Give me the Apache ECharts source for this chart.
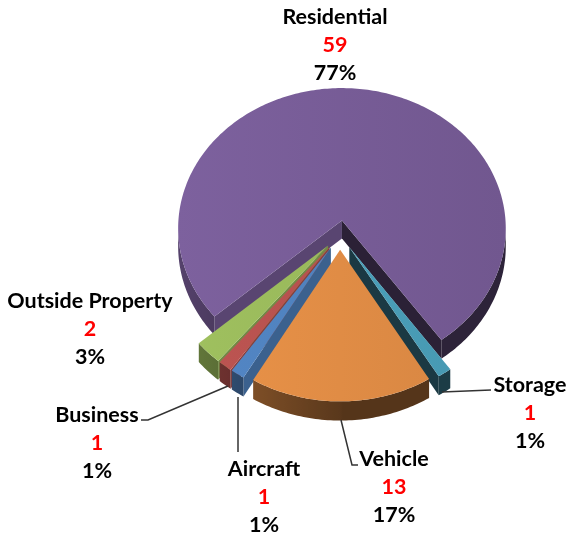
<!DOCTYPE html>
<html>
<head>
<meta charset="utf-8">
<style>
  html, body { margin: 0; padding: 0; background: #fff; }
  #chart { width: 569px; height: 535px; }
</style>
<script src="https://cdn.jsdelivr.net/npm/echarts@6/dist/echarts.min.js"></script>
</head>
<body>
<div id="chart"></div>
<script>
// data, in the order the slices run clockwise
const categories = ['Aircraft', 'Business', 'Outside Property', 'Residential', 'Storage', 'Vehicle'];
const seriesValues = [1, 1, 2, 59, 1, 13];
const percentLabels = ['1%', '1%', '3%', '77%', '1%', '17%'];
const sliceColors = ['#4f81bd', '#b5514e', '#98b85a', '#775c96', '#4a9fb9', '#e08c45'];
const drawOrder = [3, 2, 1, 0, 4, 5]; // back to front

// label centre x, first line y, leader line
const labelX = [264, 97, 90, 335, 530, 394];
const labelY = [469, 415, 301, 17, 385, 459];
const leaders = [
    [[238, 397], [238, 452]],
    [[228, 386], [148, 420], [141, 420]],
    null,
    null,
    [[442, 392], [491, 390]],
    [[341, 420], [352, 465], [358, 465]]
];

// pie geometry
const firstAngle = 210;
const cx = 340, cy = 235, R = 164.5;
const tilt = 0.86, persp = 0.056, depth = 18, explode = 17;
const lineGap = 28;

const total = seriesValues.reduce((a, b) => a + b, 0);

function project(X, Y, Z) {
    const k = 1 / (1 - persp * Y / R);
    return [cx + X * k, cy + Y * tilt * k + Z * k];
}
function shade(hex, f) {
    const n = parseInt(hex.slice(1), 16);
    const c = [n >> 16, (n >> 8) & 255, n & 255].map(v => Math.min(255, Math.round(v * f)));
    return 'rgb(' + c.join(',') + ')';
}
function startAngleOf(idx) {
    let sum = 0;
    for (let i = 0; i < idx; i++) sum += seriesValues[i];
    return firstAngle + sum / total * 360;
}
// darker towards the right, lighter where the rim turns to the left
function rimFactor(nx) {
    return nx < 0 ? 0.4 - 0.32 * nx : 0.38;
}

function renderSlice(params, api) {
    const idx = api.value(0);
    const value = api.value(1);
    const color = sliceColors[idx];
    const a0 = startAngleOf(idx);
    const a1 = a0 + value / total * 360;
    const mid = (a0 + a1) / 2 * Math.PI / 180;
    const ox = Math.sin(mid) * explode, oy = -Math.cos(mid) * explode;

    // outline: apex, then arc clockwise
    const world = [[ox, oy, 0]];
    const steps = Math.max(2, Math.ceil(a1 - a0));
    for (let i = 0; i <= steps; i++) {
        const a = (a0 + (a1 - a0) * i / steps) * Math.PI / 180;
        world.push([ox + Math.sin(a) * R, oy - Math.cos(a) * R, Math.sin(a)]);
    }
    const top = world.map(p => project(p[0], p[1], 0));
    const bottom = world.map(p => project(p[0], p[1], depth));
    const n = top.length;

    const children = [];
    const flat = (i, j, f) => ({
        type: 'polygon',
        shape: { points: [top[i], top[j], bottom[j], bottom[i]] },
        style: { fill: shade(color, f) }
    });

    // radial walls facing the viewer
    if (top[1][0] < top[0][0]) children.push(flat(0, 1, 0.75));
    if (top[0][0] < top[n - 1][0]) children.push(flat(n - 1, 0, 0.36));

    // rim, one polygon for each run of viewer facing segments
    let i = 1;
    while (i < n - 1) {
        if (top[i + 1][0] >= top[i][0]) { i++; continue; }
        let j = i;
        while (j < n - 1 && top[j + 1][0] < top[j][0]) j++;
        const upper = top.slice(i, j + 1);
        const lower = bottom.slice(i, j + 1).reverse();
        const xR = top[i][0], xL = top[j][0];
        const stops = [];
        for (let s = j; s >= i; s--) {
            stops.push({
                offset: (top[s][0] - xL) / (xR - xL),
                color: shade(color, rimFactor(world[s][2]))
            });
        }
        children.push({
            type: 'polygon',
            shape: { points: upper.concat(lower) },
            style: { fill: new echarts.graphic.LinearGradient(xL, 0, xR, 0, stops, true) }
        });
        i = j;
    }

    children.push({
        type: 'polygon',
        shape: { points: top },
        style: {
            fill: new echarts.graphic.LinearGradient(cx - R, 0, cx + R, 0, [
                { offset: 0, color: shade(color, 1.05) },
                { offset: 1, color: shade(color, 0.95) }
            ], true)
        }
    });

    if (leaders[idx]) {
        children.push({
            type: 'polyline',
            shape: { points: leaders[idx] },
            style: { stroke: '#333', lineWidth: 1.5, fill: null }
        });
    }
    const lines = [categories[idx], String(value), percentLabels[idx]];
    lines.forEach((t, l) => {
        children.push({
            type: 'text',
            style: {
                text: t,
                x: labelX[idx],
                y: labelY[idx] + l * lineGap,
                align: 'center',
                verticalAlign: 'middle',
                fill: l === 1 ? '#ff0000' : '#000',
                font: 'bold 21.5px Lato'
            }
        });
    });
    return { type: 'group', children: children };
}

const chart = echarts.init(document.getElementById('chart'));
chart.setOption({
    animation: false,
    backgroundColor: '#fff',
    series: [{
        type: 'custom',
        coordinateSystem: 'none',
        renderItem: renderSlice,
        data: drawOrder.map(i => [i, seriesValues[i]])
    }]
});
</script>
</body>
</html>
